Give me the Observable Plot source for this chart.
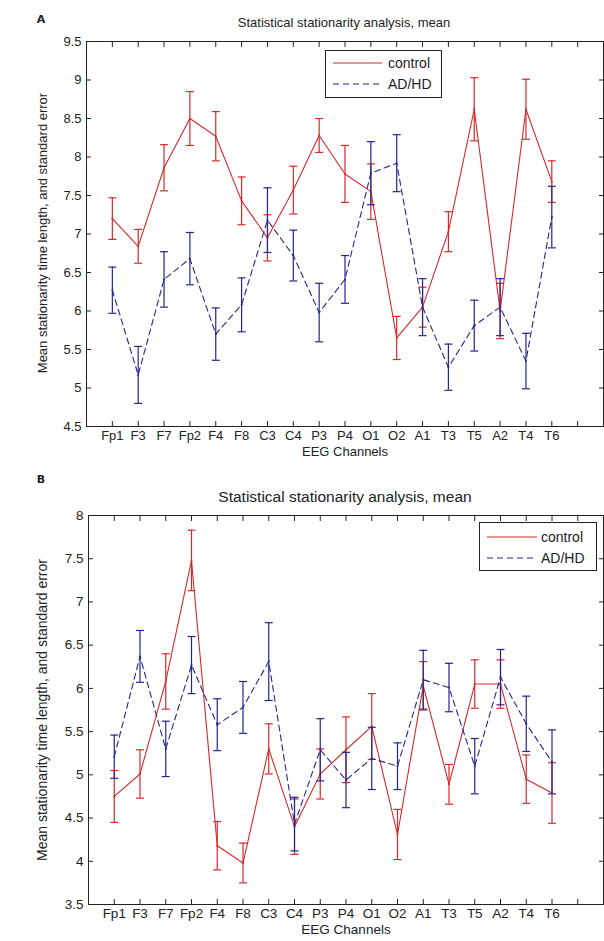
<!DOCTYPE html>
<html><head><meta charset="utf-8">
<script src="https://cdn.jsdelivr.net/npm/d3@7"></script>
<script src="https://cdn.jsdelivr.net/npm/@observablehq/plot@0.6"></script>
<style>
body{margin:0;background:#fff;}
#wrap{position:relative;width:604px;height:941px;overflow:hidden;font-family:"Liberation Sans",Arial,sans-serif;color:#222;background:#fff;}
.abs{position:absolute;white-space:nowrap;line-height:1;}
.plot{position:absolute;left:0;}
.legend{position:absolute;border:1px solid #222;background:#fff;box-sizing:border-box;}
</style></head><body><div id="wrap"></div>
<script>
const channels = ["Fp1","F3","F7","Fp2","F4","F8","C3","C4","P3","P4","O1","O2","A1","T3","T5","A2","T4","T6"];
const seriesNames = ["control","AD/HD"];
const title = "Statistical stationarity analysis, mean";
const xLabel = "EEG Channels";
const yLabel = "Mean stationarity time length, and standard error";

// Panel A
const controlA    = [7.2, 6.84, 7.86, 8.5, 8.27, 7.43, 6.95, 7.57, 8.28, 7.78, 7.55, 5.65, 6.05, 7.03, 8.62, 6.0, 8.62, 7.68];
const controlAErr = [0.27, 0.22, 0.3, 0.35, 0.32, 0.31, 0.3, 0.31, 0.22, 0.37, 0.36, 0.28, 0.26, 0.26, 0.41, 0.36, 0.39, 0.27];
const adhdA       = [6.27, 5.17, 6.41, 6.68, 5.7, 6.08, 7.18, 6.72, 5.98, 6.41, 7.79, 7.92, 6.05, 5.27, 5.81, 6.05, 5.35, 7.22];
const adhdAErr    = [0.3, 0.37, 0.36, 0.34, 0.34, 0.35, 0.42, 0.33, 0.38, 0.31, 0.41, 0.37, 0.37, 0.3, 0.33, 0.37, 0.36, 0.4];
const yTicksA = [4.5, 5, 5.5, 6, 6.5, 7, 7.5, 8, 8.5, 9, 9.5];

// Panel B
const controlB    = [4.75, 5.01, 6.08, 7.48, 4.18, 3.98, 5.3, 4.4, 5.01, 5.29, 5.56, 4.31, 6.03, 4.89, 6.05, 6.05, 4.95, 4.79];
const controlBErr = [0.3, 0.28, 0.32, 0.35, 0.28, 0.23, 0.29, 0.32, 0.29, 0.38, 0.38, 0.29, 0.28, 0.23, 0.28, 0.28, 0.28, 0.35];
const adhdB       = [5.21, 6.37, 5.3, 6.27, 5.58, 5.78, 6.31, 4.43, 5.29, 4.94, 5.19, 5.1, 6.1, 6.01, 5.1, 6.13, 5.59, 5.15];
const adhdBErr    = [0.25, 0.3, 0.32, 0.33, 0.3, 0.3, 0.45, 0.31, 0.36, 0.32, 0.36, 0.27, 0.34, 0.28, 0.32, 0.32, 0.32, 0.37];
const yTicksB = [3.5, 4, 4.5, 5, 5.5, 6, 6.5, 7, 7.5, 8];

const RED = "#d42a2a", BLUE = "#25258f", INK = "#222";
const xTicks = d3.range(1, 20);
const capHalf = 0.155;

function rows(means, errs) {
  return means.map((m, k) => ({i: k + 1, m, lo: m - errs[k], hi: m + errs[k]}));
}

function series(data, color, dash) {
  const caps = data.flatMap(d => [{i: d.i, y: d.lo}, {i: d.i, y: d.hi}]);
  return [
    Plot.ruleX(data, {x: "i", y1: "lo", y2: "hi", stroke: color, strokeWidth: 1.2}),
    Plot.link(caps, {x1: d => d.i - capHalf, x2: d => d.i + capHalf, y1: "y", y2: "y", stroke: color, strokeWidth: 1.2}),
    Plot.line(data, {x: "i", y: "m", stroke: color, strokeWidth: 1.1, strokeDasharray: dash}),
    Plot.dot(data, {x: "i", y: "m", r: 1, fill: color, stroke: null})
  ];
}

function panel(opts) {
  const {top, height, mTop, mBottom, mLeft, yDomain, yTicks, control, adhd, fs} = opts;
  const p = Plot.plot({
    width: 604, height,
    marginTop: mTop, marginBottom: mBottom, marginLeft: mLeft, marginRight: 1,
    x: {domain: [0, 20]},
    y: {domain: yDomain},
    style: {fontFamily: '"Liberation Sans", Arial, sans-serif', fontSize: fs + "px", color: INK, background: "#fff", overflow: "visible"},
    marks: [
      ...series(control, RED, null),
      ...series(adhd, BLUE, "6,4"),
      Plot.frame({stroke: INK, strokeWidth: 1}),
      Plot.axisY(yTicks, {anchor: "left", tickSize: -5, tickPadding: 10, label: null, fontSize: fs, tickFormat: d => String(d), stroke: INK, color: INK}),
      Plot.axisY(yTicks, {anchor: "right", tickSize: -5, tickFormat: () => "", label: null, stroke: INK}),
      Plot.axisX(xTicks, {anchor: "bottom", tickSize: -5, tickPadding: 9, label: null, fontSize: fs, tickFormat: i => channels[i - 1] ?? "", stroke: INK, color: INK}),
      Plot.axisX(xTicks, {anchor: "top", tickSize: -5, tickFormat: () => "", label: null, stroke: INK})
    ]
  });
  p.classList.add("plot");
  p.style.top = top + "px";
  return p;
}

const wrap = document.getElementById("wrap");

function addText(txt, x, y, size, extra) {
  const d = document.createElement("div");
  d.className = "abs";
  d.textContent = txt;
  d.style.fontSize = size + "px";
  d.style.left = x + "px";
  d.style.top = y + "px";
  d.style.transform = "translate(-50%,-50%)" + (extra || "");
  wrap.appendChild(d);
  return d;
}

function addLegend(left, top, w, h, lineX0, lineX1, textX, rowY, fs) {
  const box = document.createElement("div");
  box.className = "legend";
  box.style.left = left + "px"; box.style.top = top + "px";
  box.style.width = w + "px"; box.style.height = h + "px";
  const svg = d3.create("svg").attr("width", w).attr("height", h).style("position", "absolute").style("left", "-1px").style("top", "-1px");
  const colors = [RED, BLUE], dashes = [null, "6,4"];
  seriesNames.forEach((name, k) => {
    svg.append("line").attr("x1", lineX0).attr("x2", lineX1).attr("y1", rowY[k]).attr("y2", rowY[k])
      .attr("stroke", colors[k]).attr("stroke-width", 1.2).attr("stroke-dasharray", dashes[k]);
    svg.append("text").attr("x", textX).attr("y", rowY[k]).attr("dy", "0.36em")
      .attr("font-size", fs).attr("fill", INK).attr("font-family", '"Liberation Sans", Arial, sans-serif').text(name);
  });
  box.appendChild(svg.node());
  wrap.appendChild(box);
}

// Panel A
wrap.appendChild(panel({top: 0, height: 460, mTop: 41, mBottom: 34, mLeft: 86,
  yDomain: [4.5, 9.5], yTicks: yTicksA, control: rows(controlA, controlAErr), adhd: rows(adhdA, adhdAErr), fs: 13}));
// Panel B
wrap.appendChild(panel({top: 460, height: 481, mTop: 55, mBottom: 37, mLeft: 88,
  yDomain: [3.5, 8], yTicks: yTicksB, control: rows(controlB, controlBErr), adhd: rows(adhdB, adhdBErr), fs: 13.5}));

// Panel letters
const la = addText("A", 41, 19, 11); la.style.fontWeight = "bold"; la.style.fontFamily = '"DejaVu Sans", sans-serif';
const lb = addText("B", 41, 479, 11); lb.style.fontWeight = "bold"; lb.style.fontFamily = '"DejaVu Sans", sans-serif';

// Titles
addText(title, 344, 22, 13);
addText(title, 345, 497, 15.5);
// x labels
addText(xLabel, 345, 451, 13);
addText(xLabel, 346, 930, 13.5);
// y labels
addText(yLabel, 42, 233, 13, " rotate(-90deg)");
addText(yLabel, 42, 710, 14, " rotate(-90deg)");

// Legends
addLegend(325, 50, 117, 48, 8, 57, 63, [13, 34], 14);
addLegend(479, 522, 118, 49, 8, 58, 62, [15, 36], 14);
</script></body></html>
